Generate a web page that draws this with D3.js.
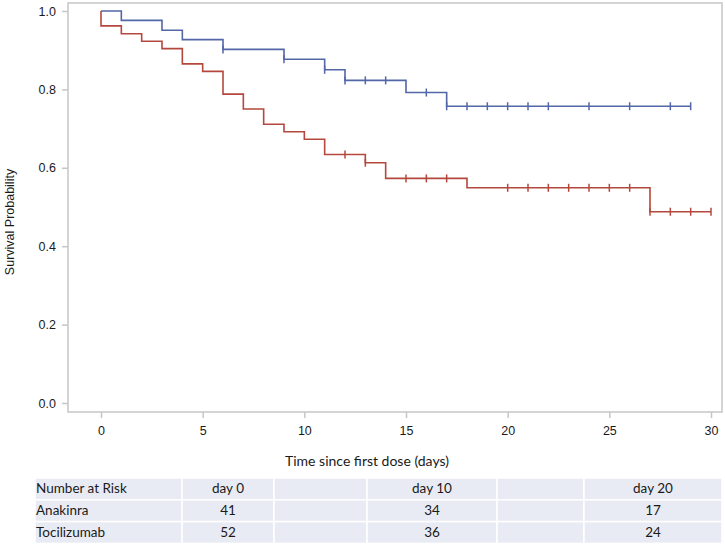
<!DOCTYPE html>
<html>
<head>
<meta charset="utf-8">
<script src="https://cdn.jsdelivr.net/npm/d3@7"></script>
<style>
  body { margin: 0; background: #fff; }
  svg { display: block; }
</style>
</head>
<body>
<div id="vis"></div>
<script>
// step data
const anakinraTimes = [0, 1, 3, 4, 6, 9, 11, 12, 15, 17, 29]
const anakinraSurv = [1, 0.976, 0.951, 0.927, 0.902, 0.877, 0.850, 0.823, 0.792, 0.757, 0.757]
const anakinraCensor = [6, 9, 11, 12, 13, 14, 16, 17, 18, 19, 20, 21, 22, 24, 26, 28, 29]

const tociTimes = [0, 0, 1, 2, 3, 4, 5, 6, 7, 8, 9, 10, 11, 13, 14, 18, 27, 30]
const tociSurv = [1, 0.962, 0.942, 0.923, 0.904, 0.865, 0.846, 0.788, 0.750, 0.711, 0.692, 0.673, 0.634, 0.613, 0.573, 0.549, 0.488, 0.488]
const tociCensor = [12, 13, 15, 16, 17, 20, 21, 22, 23, 24, 25, 26, 27, 28, 29, 30]

const xTicks = [0, 5, 10, 15, 20, 25, 30]
const yTicks = [0, 0.2, 0.4, 0.6, 0.8, 1.0]

// number at risk table
const riskHeader = ['Number at Risk', 'day 0', '', 'day 10', '', 'day 20']
const riskRows = [
    ['Anakinra', '41', '', '34', '', '17'],
    ['Tocilizumab', '52', '', '36', '', '24']
]
const colEdges = [35, 182, 274, 367, 497, 584, 722]

const blue = '#5367a8'
const red = '#b4483e'
const frameColor = '#c4c6c8'

const W = 725, H = 546
const frame = {left: 68, top: 3, right: 722, bottom: 412}

let svg = d3.select('#vis').append('svg')
    .attr('width', W)
    .attr('height', H)
    .style('font-family', '"Liberation Sans", Arial, sans-serif')

let x = d3.scaleLinear([0, 30], [101, 711])
let y = d3.scaleLinear([0, 1], [403, 11])

// frame
svg.append('rect')
    .attr('x', frame.left).attr('y', frame.top)
    .attr('width', frame.right - frame.left)
    .attr('height', frame.bottom - frame.top)
    .attr('fill', 'none')
    .attr('stroke', frameColor)
    .attr('stroke-width', 1.5)

// axes
let xAxis = svg.append('g')
    .attr('transform', `translate(0,${frame.bottom})`)
    .call(d3.axisBottom(x).tickValues(xTicks).tickSize(6).tickPadding(8).tickFormat(d3.format('d')))
let yAxis = svg.append('g')
    .attr('transform', `translate(${frame.left},0)`)
    .call(d3.axisLeft(y).tickValues(yTicks).tickSize(6).tickPadding(6).tickFormat(d3.format('.1f')))

;[xAxis, yAxis].forEach(a => {
    a.select('.domain').remove()
    a.selectAll('line').attr('stroke', frameColor).attr('stroke-width', 1.5)
    a.selectAll('text').attr('fill', '#1a1a1a').style('font-size', '12.5px')
        .style('font-family', '"Liberation Sans", Arial, sans-serif')
})

// axis labels
svg.append('text')
    .attr('transform', 'translate(14,222) rotate(-90)')
    .attr('text-anchor', 'middle')
    .attr('fill', '#1a1a1a')
    .style('font-size', '12.5px')
    .text('Survival Probability')

svg.append('text')
    .attr('x', 367)
    .attr('y', 466)
    .attr('text-anchor', 'middle')
    .attr('fill', '#1a1a1a')
    .style('font-family', 'Lato, sans-serif')
    .style('font-size', '14px')
    .text('Time since first dose (days)')

// curves
let line = d3.line()
    .x(d => x(d[0]))
    .y(d => y(d[1]))
    .curve(d3.curveStepAfter)

function stepValue(times, surv, t){
    let v = surv[0]
    times.forEach((tt, i) => { if (tt <= t) v = surv[i] })
    return v
}

function drawGroup(times, surv, censor, color){
    let pts = times.map((t, i) => [t, surv[i]])
    svg.append('path')
        .datum(pts)
        .attr('d', line)
        .attr('fill', 'none')
        .attr('stroke', color)
        .attr('stroke-width', 1.6)

    svg.append('g').selectAll('line')
        .data(censor)
        .enter()
        .append('line')
            .attr('x1', d => x(d)).attr('x2', d => x(d))
            .attr('y1', d => y(stepValue(times, surv, d)) - 4)
            .attr('y2', d => y(stepValue(times, surv, d)) + 4)
            .attr('stroke', color)
            .attr('stroke-width', 1.5)
}

drawGroup(tociTimes, tociSurv, tociCensor, red)
drawGroup(anakinraTimes, anakinraSurv, anakinraCensor, blue)

// risk table
const rowTop = 478, rowH = 21.8
let table = svg.append('g').style('font-family', 'Lato, sans-serif').style('font-size', '13.5px')
let allRows = [riskHeader].concat(riskRows)

allRows.forEach((row, r) => {
    row.forEach((cell, c) => {
        let x0 = colEdges[c], x1 = colEdges[c + 1]
        table.append('rect')
            .attr('x', x0).attr('y', rowTop + r * rowH)
            .attr('width', x1 - x0).attr('height', rowH)
            .attr('fill', '#e9ebf4')
            .attr('stroke', '#fff')
            .attr('stroke-width', 1.5)
        if (cell !== '') {
            table.append('text')
                .attr('x', c === 0 ? x0 + 1 : (x0 + x1) / 2)
                .attr('y', rowTop + r * rowH + rowH / 2 + 4.5)
                .attr('text-anchor', c === 0 ? 'start' : 'middle')
                .attr('fill', '#1a1a1a')
                .text(cell)
        }
    })
})
</script>
</body>
</html>
